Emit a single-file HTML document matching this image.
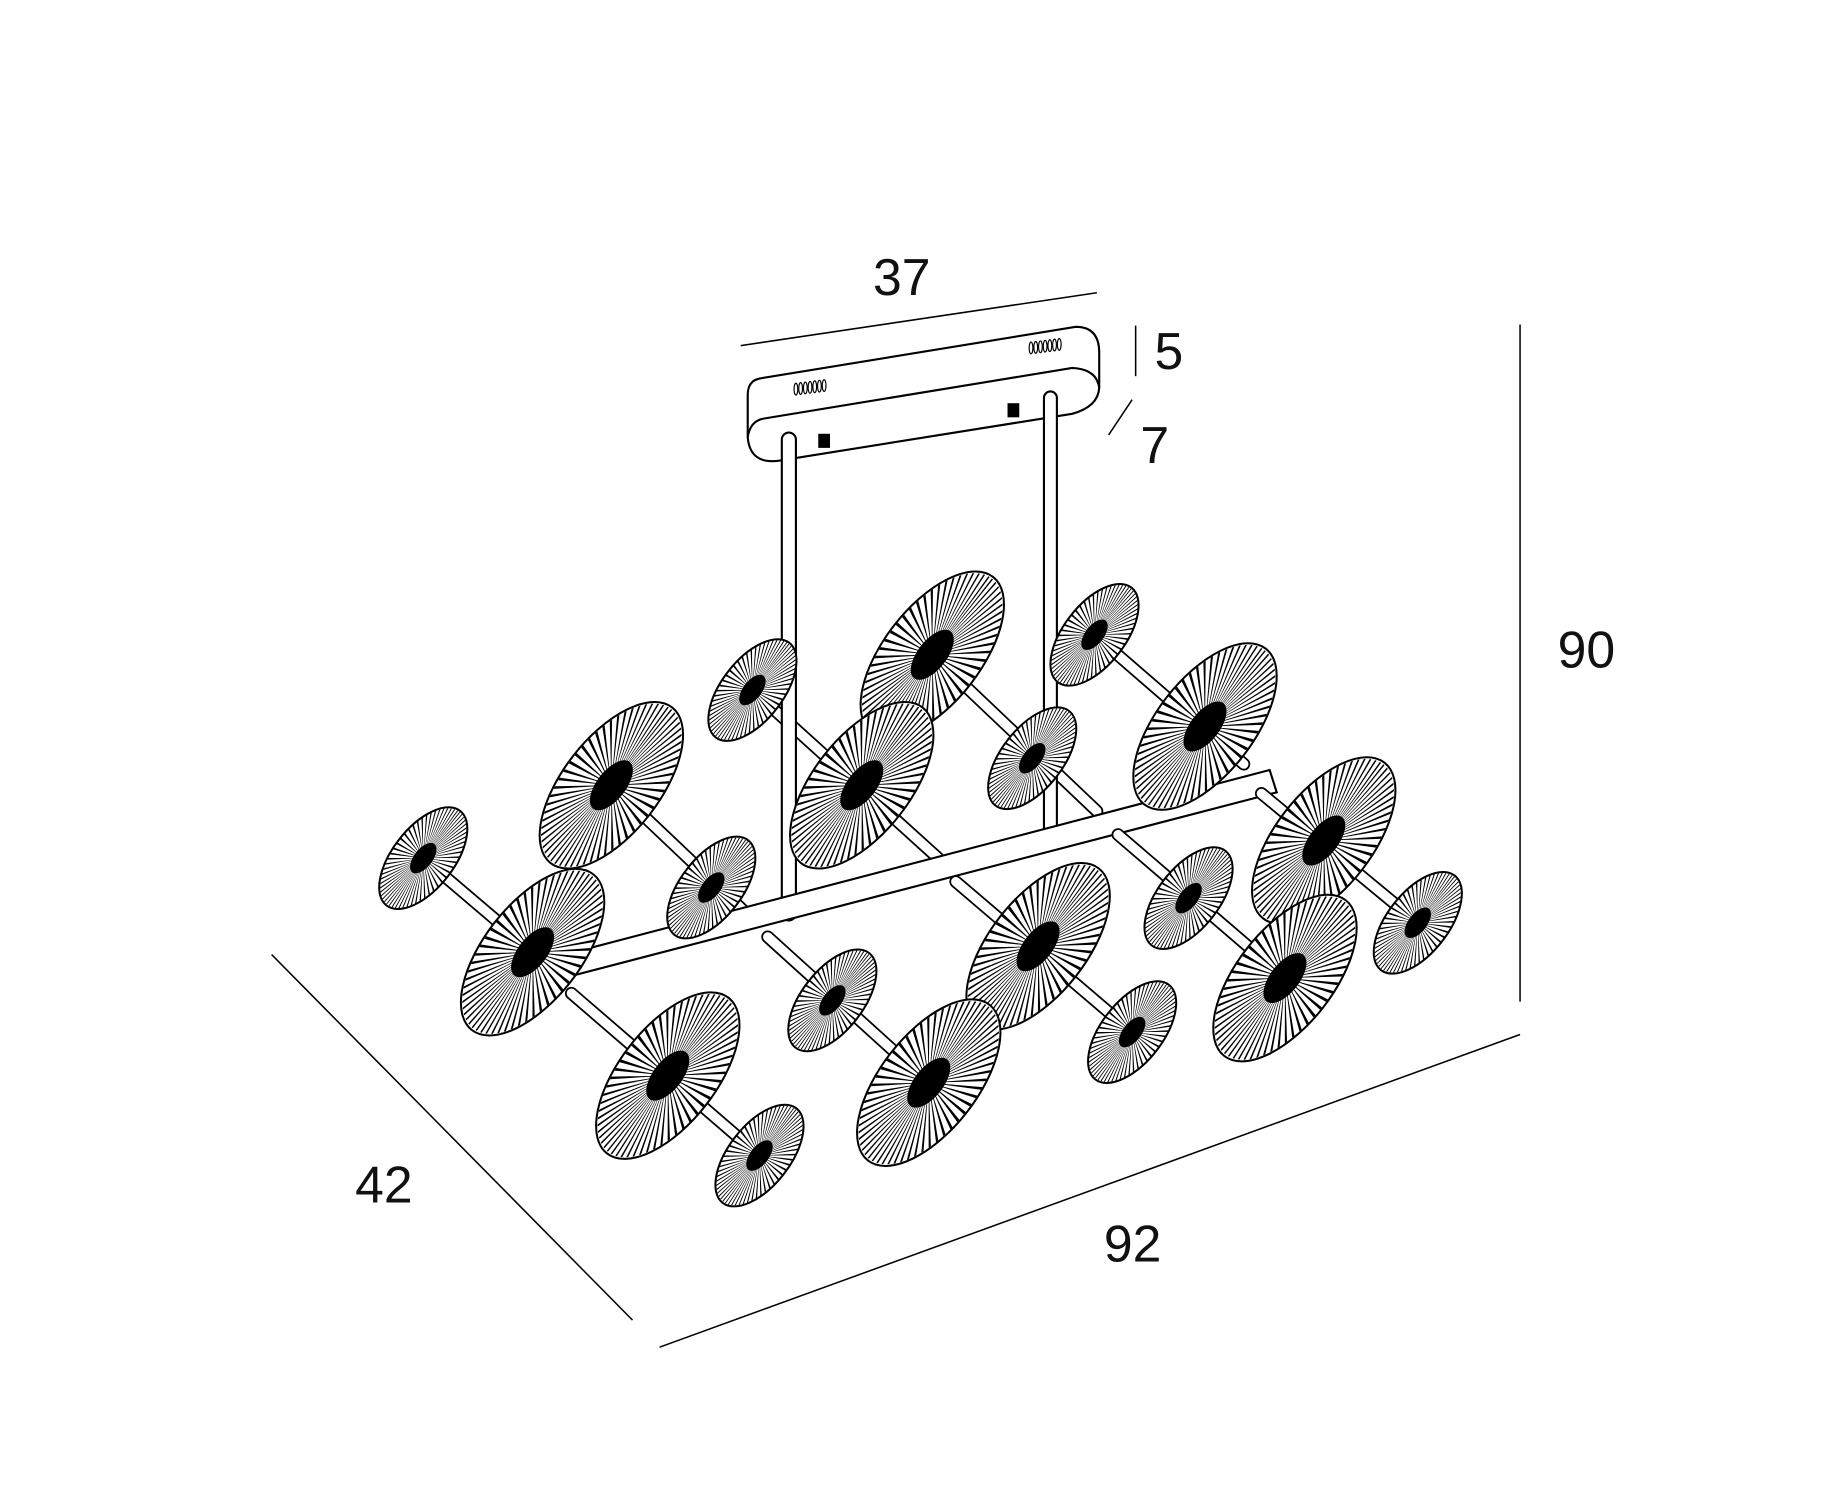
<!DOCTYPE html>
<html><head><meta charset="utf-8"><style>
html,body{margin:0;padding:0;background:#fff;}
svg{display:block}
text{font-family:"Liberation Sans",sans-serif;font-size:44px;fill:#111;}
</style></head><body>
<svg width="1834" height="1500" viewBox="0 0 1560 1276" xmlns="http://www.w3.org/2000/svg">
<defs>
<g id="d">
<circle r="50" fill="#fff" stroke="#000" stroke-width="2" vector-effect="non-scaling-stroke"/>
<circle r="25" fill="none" stroke="#000" stroke-width="48" stroke-dasharray="0.8 1.82"/>
<circle r="15" fill="#000"/>
</g>
</defs>
<g stroke="#000" fill="none" stroke-width="1.3">
<line x1="630" y1="294" x2="933" y2="249"/>
<line x1="966" y1="277" x2="966" y2="320"/>
<line x1="943" y1="370" x2="963" y2="340"/>
<line x1="1293" y1="276" x2="1293" y2="852"/>
<line x1="231" y1="812" x2="538" y2="1123"/>
<line x1="561" y1="1146" x2="1293" y2="880"/>
</g>
<text x="767" y="251" text-anchor="middle">37</text>
<text x="982" y="314">5</text>
<text x="970" y="394">7</text>
<text x="1325" y="568">90</text>
<text x="302" y="1023">42</text>
<text x="939" y="1073">92</text>

<g stroke="#000" stroke-width="1.8" fill="#fff">
<path d="M646,322 L915,278 Q935,278 935,300 L935,330 Q934,346 912,352 L662,392 Q638,395 636,372 L636,336 Q636,324 646,322 Z"/>
<path d="M636,372 Q638,358 650,356 L912,313 Q933,314 935,330" fill="none"/>
<g fill="none" stroke-width="1">
<ellipse cx="677" cy="331" rx="1.6" ry="5"/><ellipse cx="681" cy="330.5" rx="1.6" ry="5"/><ellipse cx="685" cy="330" rx="1.6" ry="5"/><ellipse cx="689" cy="329.5" rx="1.6" ry="5"/><ellipse cx="693" cy="329" rx="1.6" ry="5"/><ellipse cx="697" cy="328.5" rx="1.6" ry="5"/><ellipse cx="701" cy="328" rx="1.6" ry="5"/>
<ellipse cx="877" cy="296" rx="1.6" ry="5"/><ellipse cx="881" cy="295.5" rx="1.6" ry="5"/><ellipse cx="885" cy="295" rx="1.6" ry="5"/><ellipse cx="889" cy="294.5" rx="1.6" ry="5"/><ellipse cx="893" cy="294" rx="1.6" ry="5"/><ellipse cx="897" cy="293.5" rx="1.6" ry="5"/><ellipse cx="901" cy="293" rx="1.6" ry="5"/>
</g>
</g>
<rect x="696" y="369" width="10" height="12" fill="#000"/>
<rect x="857" y="343" width="10" height="12" fill="#000"/>

<g stroke-linecap="round">
<g stroke="#000" stroke-width="11">
<line x1="360" y1="730" x2="468" y2="822"/>
<line x1="520" y1="668" x2="638" y2="780"/>
<line x1="640" y1="587" x2="798" y2="730"/>
<line x1="793" y1="557" x2="933" y2="690"/>
<line x1="931" y1="540" x2="1058" y2="650"/>
</g>
<g stroke="#fff" stroke-width="8">
<line x1="360" y1="730" x2="468" y2="822"/>
<line x1="520" y1="668" x2="638" y2="780"/>
<line x1="640" y1="587" x2="798" y2="730"/>
<line x1="793" y1="557" x2="933" y2="690"/>
<line x1="931" y1="540" x2="1058" y2="650"/>
</g>
</g>
<rect x="665" y="368" width="12" height="415" rx="6" fill="#fff" stroke="#000" stroke-width="1.8"/>
<rect x="888" y="333" width="11" height="385" rx="5.5" fill="#fff" stroke="#000" stroke-width="1.8"/>
<path d="M450,820 L1080,655 L1086,674 L456,838 Z" fill="#fff" stroke="#000" stroke-width="1.8"/>
<g stroke-linecap="round">
<g stroke="#000" stroke-width="11">
<line x1="486" y1="845" x2="646" y2="983"/>
<line x1="653" y1="797" x2="790" y2="921"/>
<line x1="813" y1="750" x2="963" y2="878"/>
<line x1="951" y1="710" x2="1093" y2="832"/>
<line x1="1073" y1="675" x2="1206" y2="785"/>
</g>
<g stroke="#fff" stroke-width="8">
<line x1="486" y1="845" x2="646" y2="983"/>
<line x1="653" y1="797" x2="790" y2="921"/>
<line x1="813" y1="750" x2="963" y2="878"/>
<line x1="951" y1="710" x2="1093" y2="832"/>
<line x1="1073" y1="675" x2="1206" y2="785"/>
</g>
</g>

<use href="#d" transform="translate(931,540) rotate(-52) scale(1.02,0.52)"/>
<use href="#d" transform="translate(793,557) rotate(-52) scale(1.68,0.82)"/>
<use href="#d" transform="translate(640,587) rotate(-52) scale(1.02,0.52)"/>
<use href="#d" transform="translate(1025,618) rotate(-52) scale(1.68,0.82)"/>
<use href="#d" transform="translate(878,645) rotate(-52) scale(1.02,0.52)"/>
<use href="#d" transform="translate(520,668) rotate(-52) scale(1.68,0.82)"/>
<use href="#d" transform="translate(733,668) rotate(-52) scale(1.68,0.82)"/>
<use href="#d" transform="translate(360,730) rotate(-52) scale(1.02,0.52)"/>
<use href="#d" transform="translate(605,755) rotate(-52) scale(1.02,0.52)"/>
<use href="#d" transform="translate(1126,715) rotate(-52) scale(1.68,0.82)"/>
<use href="#d" transform="translate(1011,764) rotate(-52) scale(1.02,0.52)"/>
<use href="#d" transform="translate(1206,785) rotate(-52) scale(1.02,0.52)"/>
<use href="#d" transform="translate(453,810) rotate(-52) scale(1.68,0.82)"/>
<use href="#d" transform="translate(883,805) rotate(-52) scale(1.68,0.82)"/>
<use href="#d" transform="translate(1093,832) rotate(-52) scale(1.68,0.82)"/>
<use href="#d" transform="translate(708,851) rotate(-52) scale(1.02,0.52)"/>
<use href="#d" transform="translate(963,878) rotate(-52) scale(1.02,0.52)"/>
<use href="#d" transform="translate(568,915) rotate(-52) scale(1.68,0.82)"/>
<use href="#d" transform="translate(790,921) rotate(-52) scale(1.68,0.82)"/>
<use href="#d" transform="translate(646,983) rotate(-52) scale(1.02,0.52)"/>
</svg>
</body></html>
